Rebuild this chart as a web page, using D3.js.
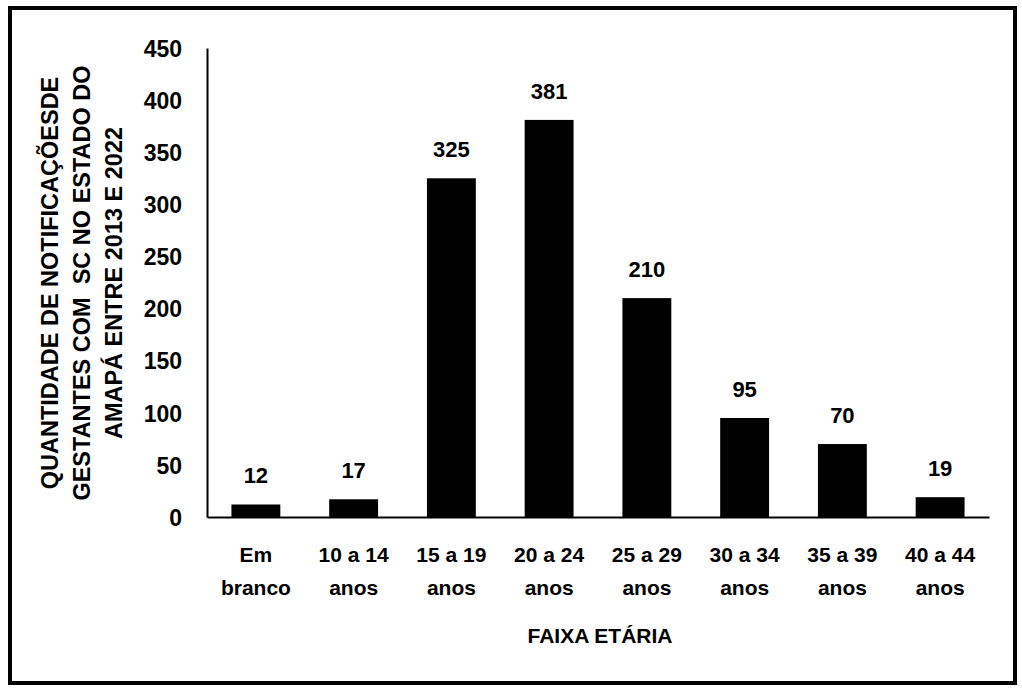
<!DOCTYPE html>
<html><head><meta charset="utf-8">
<script src="https://cdn.jsdelivr.net/npm/d3@7"></script>
<style>body{margin:0;background:#fff;}svg{display:block;}</style>
</head><body>
<script>
const categories = [["Em","branco"],["10 a 14","anos"],["15 a 19","anos"],["20 a 24","anos"],["25 a 29","anos"],["30 a 34","anos"],["35 a 39","anos"],["40 a 44","anos"]];
const values = [12,17,325,381,210,95,70,19];
const yTicks = [0,50,100,150,200,250,300,350,400,450];
const yTitle = ["QUANTIDADE DE NOTIFICAÇÕESDE","GESTANTES COM  SC NO ESTADO DO","AMAPÁ ENTRE 2013 E 2022"];
const xTitle = "FAIXA ETÁRIA";

const W=1022,H=693;
const svg=d3.select("body").append("svg").attr("width",W).attr("height",H);
svg.append("rect").attr("x",10).attr("y",8).attr("width",1005).attr("height",675)
  .attr("fill","#fff").attr("stroke","#000").attr("stroke-width",4);

const m={l:207,r:989,t:48,b:517};
const x=d3.scaleBand().domain(categories.map((d,i)=>i)).range([m.l,m.r]).paddingInner(0.5).paddingOuter(0.25);
const y=d3.scaleLinear().domain([0,450]).range([m.b,m.t]);
const font="'Liberation Sans', Arial, sans-serif";

svg.selectAll("rect.bar").data(values).join("rect").attr("class","bar")
  .attr("x",(d,i)=>x(i)).attr("width",x.bandwidth())
  .attr("y",d=>y(d)).attr("height",d=>y(0)-y(d)).attr("fill","#000");

svg.selectAll("text.val").data(values).join("text").attr("class","val")
  .attr("x",(d,i)=>x(i)+x.bandwidth()/2).attr("y",d=>y(d)-21)
  .attr("text-anchor","middle").attr("font-family",font).attr("font-weight","bold")
  .attr("font-size",22).text(d=>d);

// y axis
const ya=svg.append("g").attr("transform",`translate(${m.l},0)`)
  .call(d3.axisLeft(y).tickValues(yTicks).tickSize(0).tickPadding(25));
ya.select(".domain").attr("stroke","#000").attr("stroke-width",2);
ya.selectAll("text").attr("font-family",font).attr("font-weight","bold").attr("font-size",23).attr("fill","#000").attr("dy","0.36em");

// x axis
const xa=svg.append("g").attr("transform",`translate(0,${m.b})`)
  .call(d3.axisBottom(x).tickSize(0).tickFormat(""));
xa.select(".domain").attr("stroke","#000").attr("stroke-width",2);
xa.selectAll(".tick").each(function(d){
  const t=d3.select(this).append("text").attr("fill","#000").attr("text-anchor","middle")
    .attr("font-family",font).attr("font-weight","bold").attr("font-size",21);
  t.append("tspan").attr("x",0).attr("y",45).text(categories[d][0]);
  t.append("tspan").attr("x",0).attr("y",78).text(categories[d][1]);
});

svg.append("text").attr("x",600).attr("y",643).attr("text-anchor","middle")
  .attr("font-family",font).attr("font-weight","bold").attr("font-size",21).text(xTitle);

const yt=svg.append("text").attr("transform","translate(49,283) rotate(-90)")
  .attr("text-anchor","middle").attr("font-family",font).attr("font-weight","bold").attr("font-size",23.5);
yTitle.forEach((s,i)=>yt.append("tspan").attr("x",0).attr("y",i*32+9).style("white-space","pre").text(s));
</script>
</body></html>
